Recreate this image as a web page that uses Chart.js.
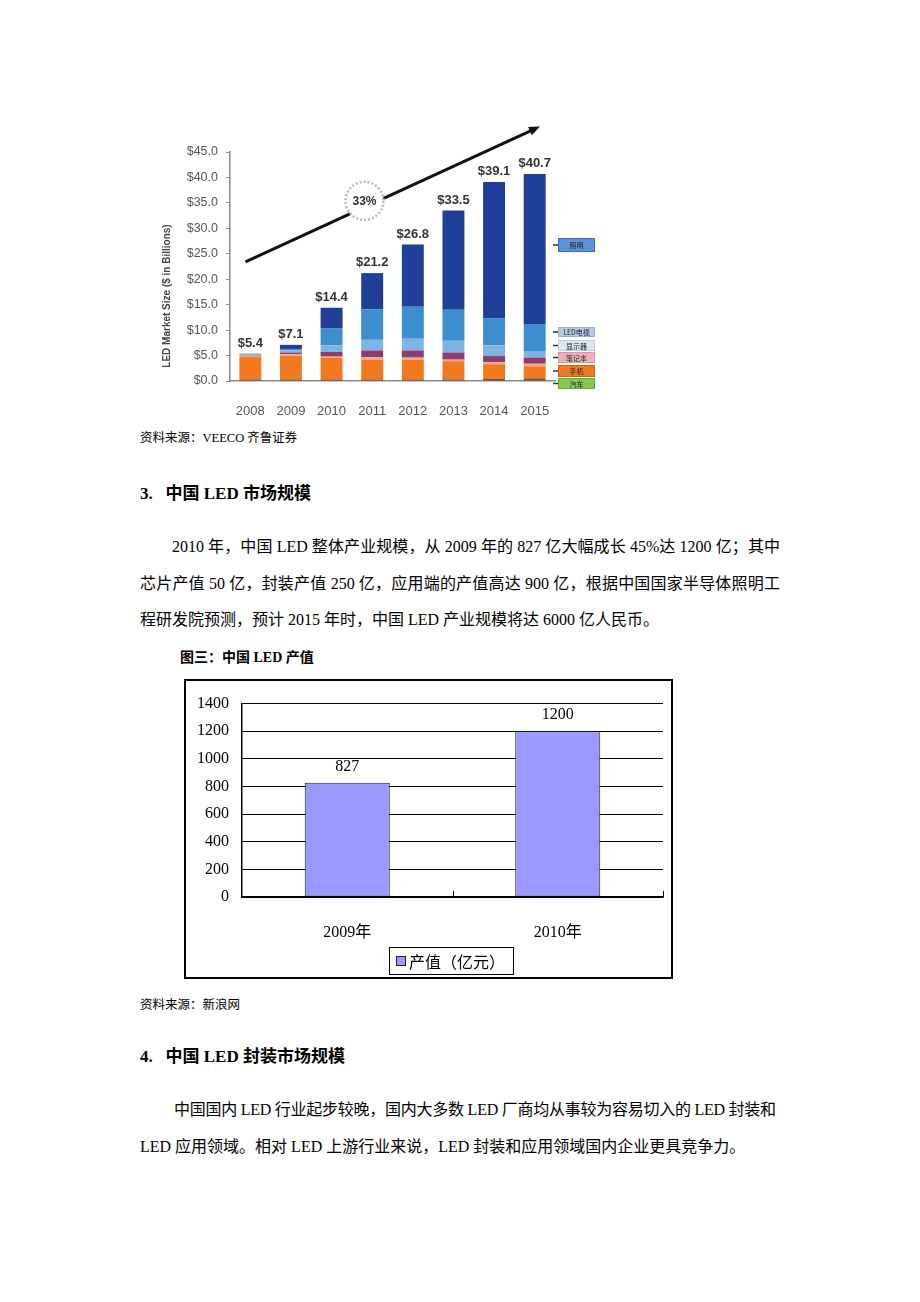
<!DOCTYPE html>
<html>
<head>
<meta charset="utf-8">
<script src="https://cdn.jsdelivr.net/npm/chart.js@4.4.1/dist/chart.umd.min.js"></script>
<style>
  html, body { margin:0; padding:0; background:#fff; }
  body { width:920px; height:1302px; position:relative; overflow:hidden;
         font-family:"Liberation Serif","Noto Sans CJK SC",serif; color:#000; }
  .t { position:absolute; white-space:nowrap; }
  .src { font-size:12.5px; line-height:14px; }
  .h { font-size:17px; line-height:22px; font-weight:bold; }
  .p { font-size:16px; line-height:20px; }
  .j { text-align:justify; text-align-last:justify; white-space:normal; }
  .cap { font-size:14px; line-height:18px; font-weight:bold; }
  #box2 { position:absolute; left:184px; top:679px; width:489px; height:300px;
          border:2px solid #000; box-sizing:border-box; }
</style>
</head>
<body>
<script>
// ---- Chart 1 data (LED market size, $ billions) ----
const years = ['2008','2009','2010','2011','2012','2013','2014','2015'];
const carVals      = [0.3, 0.3, 0.3, 0.3, 0.3, 0.3, 0.4, 0.5];
const phoneVals    = [4.4, 4.6, 4.3, 3.9, 3.9, 3.6, 2.9, 2.4];
const otherVals    = [0.3, 0.4, 0.2, 0.5, 0.4, 0.3, 0.4, 0.5];
const notebookVals = [0.1, 0.3, 0.9, 1.3, 1.4, 1.4, 1.2, 1.2];
const monitorVals  = [0.3, 0.4, 1.3, 2.1, 2.3, 2.3, 2.1, 1.3];
const tvVals       = [0.0, 0.3, 3.3, 6.0, 6.3, 6.1, 5.3, 5.3];
const lightVals    = [0.0, 0.8, 4.1, 7.1, 12.2, 19.5, 26.8, 29.5];
const totalVals    = [5.4, 7.1, 14.4, 21.2, 26.8, 33.5, 39.1, 40.7];
const legendNames  = ['照明', 'LED电视', '显示器', '笔记本', '手机', '汽车'];
const growthLabel  = '33%';
const yTitle1      = 'LED Market Size ($ in Billions)';

// ---- Chart 2 data (China LED output, 亿元) ----
const cats2 = ['2009年', '2010年'];
const vals2 = [827, 1200];
const series2Name = '产值（亿元）';
</script>

<div style="position:absolute;left:140px;top:110px;width:470px;height:310px;">
  <canvas id="c1" width="470" height="310"></canvas>
</div>

<div class="t src" style="left:140px;top:431px;">资料来源：VEECO 齐鲁证券</div>
<div class="t h" style="left:140px;top:483px;">3.&nbsp;&nbsp; 中国 LED 市场规模</div>
<div class="t p j" style="left:172px;top:537px;width:608px;">2010 年，中国 LED 整体产业规模，从 2009 年的 827 亿大幅成长 45%达 1200 亿；其中</div>
<div class="t p j" style="left:140px;top:574px;width:640px;">芯片产值 50 亿，封装产值 250 亿，应用端的产值高达 900 亿，根据中国国家半导体照明工</div>
<div class="t p" style="left:140px;top:610px;">程研发院预测，预计 2015 年时，中国 LED 产业规模将达 6000 亿人民币。</div>
<div class="t cap" style="left:180px;top:649px;">图三：中国 LED 产值</div>

<div id="box2"><canvas id="c2" width="485" height="296"></canvas></div>

<div class="t src" style="left:140px;top:998px;">资料来源：新浪网</div>
<div class="t h" style="left:140px;top:1046px;">4.&nbsp;&nbsp; 中国 LED 封装市场规模</div>
<div class="t p" style="left:174px;top:1100px;letter-spacing:-0.25px;">中国国内 LED 行业起步较晚，国内大多数 LED 厂商均从事较为容易切入的 LED 封装和</div>
<div class="t p" style="left:140px;top:1137px;">LED 应用领域。相对 LED 上游行业来说，LED 封装和应用领域国内企业更具竞争力。</div>

<script>
Chart.defaults.animation = false;

const c1Extras = {
  id: 'c1Extras',
  afterDatasetsDraw(chart) {
    const ctx = chart.ctx, xs = chart.scales.x, ys = chart.scales.y, ca = chart.chartArea;
    ctx.save();
    // totals
    ctx.font = 'bold 13px "Liberation Sans", Arial, sans-serif';
    ctx.fillStyle = '#333';
    ctx.textAlign = 'center';
    ctx.textBaseline = 'bottom';
    totalVals.forEach((v, i) => {
      ctx.fillText('$' + v.toFixed(1), xs.getPixelForValue(i), ys.getPixelForValue(v) - 4);
    });
    // growth arrow
    const x0 = xs.getPixelForValue(-0.12), y0 = ys.getPixelForValue(23.4);
    const x1 = xs.getPixelForValue(7.13), y1 = ys.getPixelForValue(50);
    const ang = Math.atan2(y1 - y0, x1 - x0);
    ctx.strokeStyle = '#111'; ctx.fillStyle = '#111'; ctx.lineWidth = 3;
    ctx.beginPath(); ctx.moveTo(x0, y0);
    ctx.lineTo(x1 - 8 * Math.cos(ang), y1 - 8 * Math.sin(ang)); ctx.stroke();
    ctx.beginPath();
    ctx.moveTo(x1, y1);
    ctx.lineTo(x1 - 11 * Math.cos(ang) + 4.5 * Math.sin(ang), y1 - 11 * Math.sin(ang) - 4.5 * Math.cos(ang));
    ctx.lineTo(x1 - 11 * Math.cos(ang) - 4.5 * Math.sin(ang), y1 - 11 * Math.sin(ang) + 4.5 * Math.cos(ang));
    ctx.closePath(); ctx.fill();
    // circle
    const cx = xs.getPixelForValue(2.81), cy = ys.getPixelForValue(35.4);
    ctx.beginPath(); ctx.arc(cx, cy, 19, 0, Math.PI * 2);
    ctx.fillStyle = '#fff'; ctx.fill();
    ctx.setLineDash([2, 2]); ctx.strokeStyle = '#b8b8b8'; ctx.lineWidth = 2.5; ctx.stroke();
    ctx.setLineDash([]);
    ctx.fillStyle = '#333'; ctx.font = 'bold 12px "Liberation Sans", Arial, sans-serif';
    ctx.textBaseline = 'middle';
    ctx.fillText(growthLabel, cx, cy + 1);
    // y title
    ctx.save();
    ctx.translate(27, 186); ctx.rotate(-Math.PI / 2);
    ctx.font = 'bold 10px "Liberation Sans", Arial, sans-serif';
    ctx.fillStyle = '#444'; ctx.textAlign = 'center'; ctx.textBaseline = 'middle';
    ctx.fillText(yTitle1, 0, 0);
    ctx.restore();
    // right-side legend boxes
    const boxes = [
      {y:128, h:14, c:'#5d93d8', b:'#3f6fb0'},
      {y:217, h:10, c:'#b7cbe8', b:'#98afd3'},
      {y:230, h:11, c:'#dde4f3', b:'#c3cde3'},
      {y:242, h:11, c:'#eab3b8', b:'#d59aa0'},
      {y:255, h:12, c:'#ee7b24', b:'#cf6414'},
      {y:268, h:11, c:'#86c74e', b:'#6aa936'}
    ];
    const bx = ca.right + 3, bw = 37;
    boxes.forEach((bb, i) => {
      ctx.fillStyle = bb.c; ctx.fillRect(bx, bb.y, bw, bb.h);
      ctx.strokeStyle = bb.b; ctx.lineWidth = 1; ctx.strokeRect(bx + 0.5, bb.y + 0.5, bw - 1, bb.h - 1);
      ctx.strokeStyle = '#333'; ctx.lineWidth = 1.5;
      ctx.beginPath(); ctx.moveTo(ca.right - 2, bb.y + bb.h / 2); ctx.lineTo(bx, bb.y + bb.h / 2); ctx.stroke();
      ctx.fillStyle = '#222'; ctx.font = '7px "Noto Sans CJK SC", sans-serif';
      ctx.textAlign = 'center'; ctx.textBaseline = 'middle';
      ctx.fillText(legendNames[i], bx + bw / 2, bb.y + bb.h / 2 + 0.5);
    });
    ctx.restore();
  }
};

new Chart(document.getElementById('c1'), {
  type: 'bar',
  data: {
    labels: years,
    datasets: [
      {label: legendNames[5], data: carVals,      backgroundColor: '#7e4620'},
      {label: legendNames[4], data: phoneVals,    backgroundColor: '#f27a1e'},
      {label: '', data: otherVals,               backgroundColor: '#f3a78a'},
      {label: legendNames[3], data: notebookVals, backgroundColor: '#8b3c72'},
      {label: legendNames[2], data: monitorVals,  backgroundColor: '#7cb5e2'},
      {label: legendNames[1], data: tvVals,       backgroundColor: '#3d8ecf'},
      {label: legendNames[0], data: lightVals,    backgroundColor: '#1f3f98'}
    ]
  },
  options: {
    responsive: false,
    devicePixelRatio: 1,
    layout: { padding: { left: 0, right: 55, top: 42, bottom: 0 } },
    plugins: { legend: { display: false }, tooltip: { enabled: false } },
    datasets: { bar: { barPercentage: 0.54, categoryPercentage: 1 } },
    scales: {
      x: {
        stacked: true,
        grid: { display: false },
        border: { display: true, color: '#8a8a8a', width: 1.5 },
        ticks: { color: '#555', font: { family: '"Liberation Sans", Arial, sans-serif', size: 13 }, padding: 15 },
        afterFit: s => { s.height = 39; }
      },
      y: {
        stacked: true, min: 0, max: 45,
        grid: { drawOnChartArea: false, drawTicks: true, tickLength: 4, color: '#8a8a8a' },
        border: { display: true, color: '#8a8a8a', width: 1.5 },
        ticks: { stepSize: 5, padding: 8, color: '#555',
                 font: { family: '"Liberation Sans", Arial, sans-serif', size: 12.5 },
                 callback: v => '$' + Number(v).toFixed(1) },
        afterFit: s => { s.width = 90; }
      }
    }
  },
  plugins: [c1Extras]
});

const c2Extras = {
  id: 'c2Extras',
  afterDatasetsDraw(chart) {
    const ctx = chart.ctx;
    const meta = chart.getDatasetMeta(0);
    const xs = chart.scales.x, ca = chart.chartArea;
    ctx.save();
    ctx.font = '16px "Liberation Serif", serif';
    ctx.fillStyle = '#000'; ctx.textAlign = 'center'; ctx.textBaseline = 'middle';
    meta.data.forEach((bar, i) => { ctx.fillText(String(vals2[i]), bar.x, bar.y - 16); });
    // small category-boundary tick marks on the x axis
    ctx.strokeStyle = '#000'; ctx.lineWidth = 1;
    [0.5, 1.5].forEach(v => {
      const x = Math.round(xs.getPixelForValue(v)) + 0.5;
      ctx.beginPath(); ctx.moveTo(x, ca.bottom); ctx.lineTo(x, ca.bottom - 6); ctx.stroke();
    });
    // legend
    const lx = 203, ly = 266, lw = 124, lh = 27;
    ctx.strokeStyle = '#000'; ctx.lineWidth = 1;
    ctx.strokeRect(lx + 0.5, ly + 0.5, lw, lh);
    ctx.fillStyle = '#9999ff'; ctx.fillRect(210, 275, 9, 9);
    ctx.strokeStyle = '#222'; ctx.strokeRect(210.5, 275.5, 9, 9);
    ctx.fillStyle = '#000'; ctx.textAlign = 'left';
    ctx.font = '16px "Noto Sans CJK SC", sans-serif';
    ctx.fillText(series2Name, 223, ly + lh / 2 + 1);
    ctx.restore();
  }
};

new Chart(document.getElementById('c2'), {
  type: 'bar',
  data: {
    labels: cats2,
    datasets: [{ label: series2Name, data: vals2, backgroundColor: '#9999ff',
                 borderColor: '#222', borderWidth: 1, borderSkipped: false }]
  },
  options: {
    responsive: false,
    devicePixelRatio: 1,
    layout: { padding: { left: 0, right: 8, top: 22, bottom: 0 } },
    plugins: { legend: { display: false }, tooltip: { enabled: false } },
    datasets: { bar: { barPercentage: 0.404, categoryPercentage: 1 } },
    scales: {
      x: {
        grid: { display: false },
        border: { display: true, color: '#000', width: 1.5 },
        ticks: { color: '#000', font: { family: '"Liberation Serif","Noto Sans CJK SC", serif', size: 16 }, padding: 18 },
        afterFit: s => { s.height = 80; }
      },
      y: {
        min: 0, max: 1400,
        grid: { color: '#000', lineWidth: 1, drawTicks: false },
        border: { display: true, color: '#000', width: 1.5 },
        ticks: { stepSize: 200, padding: 13, color: '#000',
                 font: { family: '"Liberation Serif", serif', size: 16 },
                 callback: v => String(v) },
        afterFit: s => { s.width = 56; }
      }
    }
  },
  plugins: [c2Extras]
});
</script>
</body>
</html>
